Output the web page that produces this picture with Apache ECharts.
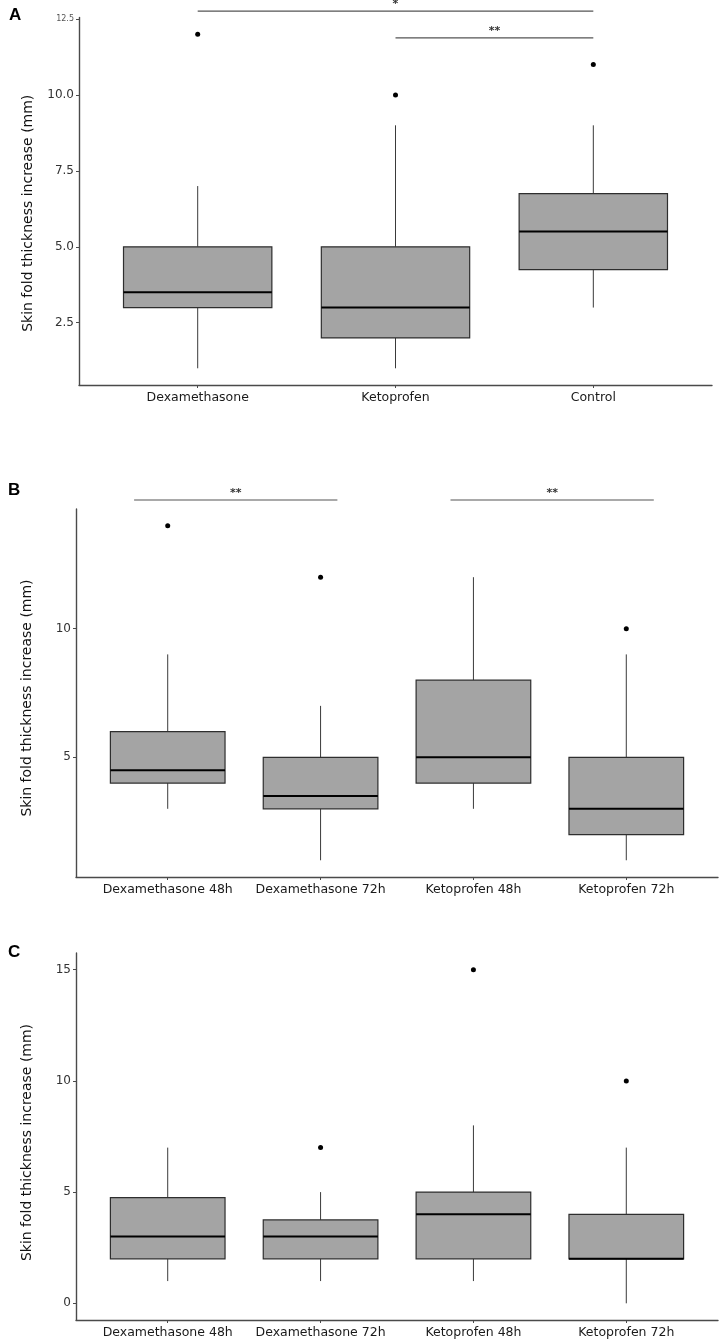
<!DOCTYPE html>
<html lang="en">
<head>
<meta charset="UTF-8">
<script src="https://cdn.jsdelivr.net/npm/echarts@6/dist/echarts.min.js"></script>
<title>Skin fold thickness</title>
<style>
  html, body { margin: 0; padding: 0; background: #fff; }
  #chart { width: 720px; height: 1339px; }
</style>
</head>
<body>
<div id="chart"></div>
<script type="text/javascript">
// panel A
var catsA = ['Dexamethasone', 'Ketoprofen', 'Control'];
var boxA = [            // low, Q1, median, Q3, high
  [1, 3, 3.5, 5, 7],
  [1, 2, 3, 5, 9],
  [3, 4.25, 5.5, 6.75, 9]
];
var outA = [[1, 12], [2, 10], [3, 11]];
var ticksA = [2.5, 5, 7.5, 10, 12.5];
var sigA = [[1, 3, 12.76], [2, 3, 11.88]];   // from, to, height
var sigTextA = ['*', '**'];

// panel B
var catsB = ['Dexamethasone 48h', 'Dexamethasone 72h', 'Ketoprofen 48h', 'Ketoprofen 72h'];
var boxB = [
  [3, 4, 4.5, 6, 9],
  [1, 3, 3.5, 5, 7],
  [3, 4, 5, 8, 12],
  [1, 2, 3, 5, 9]
];
var outB = [[1, 14], [2, 12], [4, 10]];
var ticksB = [5, 10];
var sigB = [[0.78, 2.11, 15], [2.85, 4.18, 15]];
var sigTextB = ['**', '**'];

// panel C
var catsC = ['Dexamethasone 48h', 'Dexamethasone 72h', 'Ketoprofen 48h', 'Ketoprofen 72h'];
var boxC = [
  [1, 2, 3, 4.75, 7],
  [1, 2, 3, 3.75, 5],
  [1, 2, 4, 5, 8],
  [0, 2, 2, 4, 7]
];
var outC = [[2, 7], [3, 15], [4, 10]];
var ticksC = [0, 5, 10, 15];

var yTitle = 'Skin fold thickness increase (mm)';
var FONT = 'DejaVu Sans';
var BOX_W = 0.75;

var chart = echarts.init(document.getElementById('chart'));

function withPos(rows) {
  return rows.map(function (r, i) { return [i + 1].concat(r); });
}

function renderBox(params, api) {
  var x = api.value(0);
  var lo = api.coord([x, api.value(1)]);
  var q1 = api.coord([x, api.value(2)]);
  var md = api.coord([x, api.value(3)]);
  var q3 = api.coord([x, api.value(4)]);
  var hi = api.coord([x, api.value(5)]);
  var hw = api.size([BOX_W, 0])[0] / 2;
  var lineSt = { stroke: '#3a3a3a', lineWidth: 1 };
  return {
    type: 'group',
    children: [
      { type: 'line', shape: { x1: lo[0], y1: lo[1], x2: q1[0], y2: q1[1] }, style: lineSt },
      { type: 'line', shape: { x1: q3[0], y1: q3[1], x2: hi[0], y2: hi[1] }, style: lineSt },
      { type: 'rect', shape: { x: q3[0] - hw, y: q3[1], width: hw * 2, height: q1[1] - q3[1] },
        style: { fill: '#a4a4a4', stroke: '#2e2e2e', lineWidth: 1.2 } },
      { type: 'line', shape: { x1: md[0] - hw, y1: md[1], x2: md[0] + hw, y2: md[1] },
        style: { stroke: '#000', lineWidth: 2 } }
    ]
  };
}

function sigRenderer(texts) {
  return function (params, api) {
    var p1 = api.coord([api.value(0), api.value(2)]);
    var p2 = api.coord([api.value(1), api.value(2)]);
    return {
      type: 'group',
      children: [
        { type: 'line', shape: { x1: p1[0], y1: p1[1], x2: p2[0], y2: p1[1] },
          style: { stroke: '#555', lineWidth: 1.2 } },
        { type: 'text', style: { text: texts[params.dataIndex], x: (p1[0] + p2[0]) / 2, y: p1[1] - 1,
          align: 'center', verticalAlign: 'bottom', fill: '#333', font: 'bold 11px ' + FONT } }
      ]
    };
  };
}

function xAxisFor(idx, cats) {
  var vals = cats.map(function (c, i) { return i + 1; });
  return {
    type: 'value', gridIndex: idx, min: 0.4, max: cats.length + 0.6,
    splitLine: { show: false },
    axisLine: { show: true, onZero: false, lineStyle: { color: '#4a4a4a', width: 1.4 } },
    axisTick: { show: true, length: 3, customValues: vals, lineStyle: { color: '#4a4a4a' } },
    axisLabel: {
      customValues: vals, margin: 6, color: '#1a1a1a', fontFamily: FONT, fontSize: 12.5,
      formatter: function (v) { return cats[Math.round(v) - 1] || ''; }
    }
  };
}

function yAxisFor(idx, min, max, ticks, fmt, gap, shift) {
  return {
    type: 'value', gridIndex: idx, min: min, max: max,
    name: yTitle, nameLocation: 'middle', nameRotate: 90, nameGap: gap,
    nameTextStyle: { fontFamily: FONT, fontSize: 14, color: '#111', padding: [0, shift, 0, 0] },
    splitLine: { show: false },
    axisLine: { show: true, onZero: false, lineStyle: { color: '#4a4a4a', width: 1.4 } },
    axisTick: { show: true, length: 3, customValues: ticks, lineStyle: { color: '#4a4a4a' } },
    axisLabel: {
      customValues: ticks, margin: 5, color: '#333', fontFamily: FONT, fontSize: 12,
      formatter: fmt, rich: { s: { fontSize: 8, color: '#555', fontFamily: FONT } }
    }
  };
}

function boxSeries(idx, rows) {
  return {
    type: 'custom', xAxisIndex: idx, yAxisIndex: idx,
    renderItem: renderBox, encode: { x: 0, y: [1, 2, 3, 4, 5] },
    data: withPos(rows), z: 2
  };
}

function outSeries(idx, pts) {
  return {
    type: 'scatter', xAxisIndex: idx, yAxisIndex: idx, data: pts,
    symbol: 'circle', symbolSize: 5, itemStyle: { color: '#000', opacity: 1 }, z: 3
  };
}

function sigSeries(idx, rows, texts) {
  return {
    type: 'custom', xAxisIndex: idx, yAxisIndex: idx, clip: false,
    renderItem: sigRenderer(texts), encode: { x: [0, 1], y: 2 },
    data: rows, z: 4
  };
}

var option = {
  animation: false,
  backgroundColor: '#fff',
  grid: [
    { left: 79, top: 17.5, width: 633, height: 367.5 },
    { left: 76, top: 509, width: 642, height: 368 },
    { left: 76, top: 953, width: 642, height: 368 }
  ],
  xAxis: [xAxisFor(0, catsA), xAxisFor(1, catsB), xAxisFor(2, catsC)],
  yAxis: [
    yAxisFor(0, 0.45, 12.55, ticksA, function (v) {
      return v === 12.5 ? '{s|12.5}' : v.toFixed(1);
    }, 44, 24),
    yAxisFor(1, 0.35, 14.65, ticksB, function (v) { return String(v); }, 42, 10),
    yAxisFor(2, -0.75, 15.75, ticksC, function (v) { return String(v); }, 42, 12)
  ],
  graphic: [
    { type: 'text', left: 9, top: 7, style: { text: 'A', font: 'bold 17px Liberation Sans', fill: '#000' } },
    { type: 'text', left: 8, top: 482, style: { text: 'B', font: 'bold 17px Liberation Sans', fill: '#000' } },
    { type: 'text', left: 8, top: 944, style: { text: 'C', font: 'bold 17px Liberation Sans', fill: '#000' } }
  ],
  series: [
    boxSeries(0, boxA), outSeries(0, outA), sigSeries(0, sigA, sigTextA),
    boxSeries(1, boxB), outSeries(1, outB), sigSeries(1, sigB, sigTextB),
    boxSeries(2, boxC), outSeries(2, outC)
  ]
};

chart.setOption(option);
</script>
</body>
</html>
